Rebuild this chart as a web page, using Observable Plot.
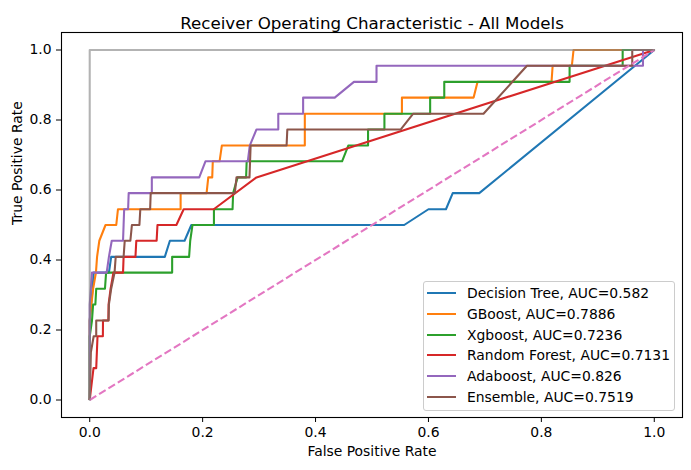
<!DOCTYPE html>
<html>
<head>
<meta charset="utf-8">
<script src="https://cdn.jsdelivr.net/npm/d3@7"></script>
<script src="https://cdn.jsdelivr.net/npm/@observablehq/plot@0.6"></script>
<style>
  html, body { margin: 0; padding: 0; background: white; }
  #wrap { position: relative; width: 691px; height: 470px; font-family: "DejaVu Sans", sans-serif; }
  #legend { position: absolute; left: 423px; top: 281px; width: 250px; height: 128px;
    border: 1px solid #cccccc; border-radius: 3px; background: rgba(255,255,255,0.8); box-sizing: content-box; }
  .row { position: absolute; left: 0; height: 20px; display: flex; align-items: center; font-size: 13.9px; color: #000; white-space: nowrap; }
  .sw { display: inline-block; width: 29px; height: 2px; margin-left: 3px; margin-right: 11px; }
</style>
</head>
<body>
<div id="wrap"><div id="legend"></div></div>
<script>
// ---- data ----
const modelNames = ["Decision Tree", "GBoost", "Xgboost", "Random Forest", "Adaboost", "Ensemble"];
const modelAUC = ["0.582", "0.7886", "0.7236", "0.7131", "0.826", "0.7519"];
const xTicks = [0, 0.2, 0.4, 0.6, 0.8, 1.0];
const yTicks = [0, 0.2, 0.4, 0.6, 0.8, 1.0];

const dtFpr = [0, 0.000, 0.005, 0.007, 0.034, 0.038, 0.133, 0.142, 0.168, 0.180, 0.557, 0.600, 0.631, 0.643, 0.690, 1];
const dtTpr = [0, 0.227, 0.318, 0.364, 0.364, 0.409, 0.409, 0.455, 0.455, 0.500, 0.500, 0.545, 0.545, 0.591, 0.591, 1];

const gbFpr = [0, 0.000, 0.003, 0.006, 0.011, 0.013, 0.017, 0.028, 0.047, 0.050, 0.161, 0.161, 0.207, 0.210, 0.217, 0.218, 0.230, 0.234, 0.381, 0.381, 0.553, 0.553, 0.680, 0.687, 0.818, 0.820, 0.854, 0.857, 1];
const gbTpr = [0, 0.227, 0.273, 0.318, 0.364, 0.409, 0.455, 0.500, 0.500, 0.545, 0.545, 0.591, 0.591, 0.636, 0.636, 0.682, 0.682, 0.727, 0.727, 0.818, 0.818, 0.864, 0.864, 0.909, 0.909, 0.955, 0.955, 1, 1];

const xgFpr = [0, 0.000, 0.004, 0.006, 0.010, 0.0115, 0.027, 0.029, 0.146, 0.146, 0.176, 0.178, 0.182, 0.220, 0.220, 0.253, 0.254, 0.262, 0.277, 0.278, 0.447, 0.458, 0.493, 0.493, 0.522, 0.522, 0.603, 0.603, 0.628, 0.628, 0.850, 0.850, 0.944, 0.944, 1];
const xgTpr = [0, 0.182, 0.227, 0.273, 0.273, 0.318, 0.318, 0.364, 0.364, 0.409, 0.409, 0.455, 0.500, 0.500, 0.545, 0.545, 0.591, 0.636, 0.636, 0.682, 0.682, 0.727, 0.727, 0.773, 0.773, 0.818, 0.818, 0.864, 0.864, 0.909, 0.909, 0.955, 0.955, 1, 1];

const rfFpr = [0, 0.0067, 0.0115, 0.0138, 0.0233, 0.0235, 0.033, 0.0334, 0.037, 0.042, 0.059, 0.060, 0.081, 0.0825, 0.1185, 0.120, 0.1535, 0.1664, 0.2197, 0.2954, 1];
const rfTpr = [0, 0.091, 0.091, 0.182, 0.182, 0.227, 0.227, 0.273, 0.318, 0.364, 0.364, 0.409, 0.409, 0.455, 0.455, 0.500, 0.500, 0.545, 0.545, 0.636, 1];

const adaFpr = [0, 0.000, 0.002, 0.004, 0.030, 0.034, 0.039, 0.059, 0.060, 0.061, 0.068, 0.069, 0.110, 0.110, 0.194, 0.205, 0.280, 0.2835, 0.2954, 0.334, 0.334, 0.378, 0.378, 0.434, 0.468, 0.508, 0.508, 0.980, 0.980, 1];
const adaTpr = [0, 0.273, 0.318, 0.364, 0.364, 0.409, 0.455, 0.455, 0.500, 0.545, 0.545, 0.591, 0.591, 0.636, 0.636, 0.682, 0.682, 0.727, 0.773, 0.773, 0.818, 0.818, 0.864, 0.864, 0.909, 0.909, 0.955, 0.955, 1, 1];

const ensFpr = [0, 0.002, 0.007, 0.0115, 0.0115, 0.0334, 0.034, 0.038, 0.044, 0.046, 0.060, 0.062, 0.072, 0.0747, 0.088, 0.0896, 0.107, 0.108, 0.257, 0.260, 0.283, 0.285, 0.3487, 0.350, 0.551, 0.573, 0.6975, 0.7745, 0.961, 0.961, 1];
const ensTpr = [0, 0.136, 0.182, 0.182, 0.227, 0.227, 0.273, 0.318, 0.364, 0.409, 0.409, 0.455, 0.455, 0.500, 0.500, 0.545, 0.545, 0.591, 0.591, 0.636, 0.636, 0.727, 0.727, 0.773, 0.773, 0.818, 0.818, 0.955, 0.955, 1, 1];

const chanceX = [0, 1];
const chanceY = [0, 1];
const perfectX = [0, 0, 1];
const perfectY = [0, 1, 1];

const titleText = "Receiver Operating Characteristic - All Models";
const xLabel = "False Positive Rate";
const yLabel = "True Positive Rate";

// ---- styling ----
const palette = ["#1f77b4", "#ff7f0e", "#2ca02c", "#d62728", "#9467bd", "#8c564b"];
const series = [[dtFpr, dtTpr], [gbFpr, gbTpr], [xgFpr, xgTpr], [rfFpr, rfTpr], [adaFpr, adaTpr], [ensFpr, ensTpr]];
const LW = 2.08;

const modelMarks = series.map(([fx, fy], i) =>
  Plot.line(fx.map((_, j) => j), {x: fx, y: fy, stroke: palette[i], strokeWidth: LW, strokeLinejoin: "round", strokeLinecap: "butt"})
);

const chart = Plot.plot({
  width: 691,
  height: 470,
  marginLeft: 61,
  marginRight: 9,
  marginTop: 32,
  marginBottom: 53,
  style: {fontFamily: "DejaVu Sans, sans-serif", fontSize: "13.9px", background: "white", color: "black", overflow: "visible"},
  x: {domain: [-0.05, 1.05], ticks: xTicks, tickFormat: ".1f", label: null, tickSize: 5, tickPadding: 5},
  y: {domain: [-0.05, 1.05], ticks: yTicks, tickFormat: ".1f", label: null, tickSize: 5, tickPadding: 5},
  marks: [
    ...modelMarks,
    Plot.line(chanceX.map((_, j) => j), {x: chanceX, y: chanceY, stroke: "#e377c2", strokeWidth: LW, strokeDasharray: "7.7,3.3", strokeLinecap: "butt"}),
    Plot.line(perfectX.map((_, j) => j), {x: perfectX, y: perfectY, stroke: "#808080", strokeOpacity: 0.6, strokeWidth: LW}),
    Plot.frame({stroke: "black", strokeWidth: 1.1}),
    Plot.text([titleText], {text: d => d, frameAnchor: "top", dy: -15, fontSize: 16.7, fill: "black"}),
    Plot.text([xLabel], {text: d => d, frameAnchor: "bottom", dy: 38, fontSize: 13.9, fill: "black"}),
    Plot.text([yLabel], {text: d => d, frameAnchor: "left", dx: -44, rotate: -90, fontSize: 13.9, fill: "black"})
  ]
});

const wrap = document.getElementById("wrap");
wrap.insertBefore(chart, wrap.firstChild);

// legend
const legend = document.getElementById("legend");
const rowTops = [1.3, 22, 42.7, 63.3, 84.3, 105];
modelNames.forEach((name, i) => {
  const row = document.createElement("div");
  row.className = "row";
  row.style.top = rowTops[i] + "px";
  const sw = document.createElement("span");
  sw.className = "sw";
  sw.style.background = palette[i];
  const t = document.createElement("span");
  t.textContent = `${name}, AUC=${modelAUC[i]}`;
  row.appendChild(sw);
  row.appendChild(t);
  legend.appendChild(row);
});
</script>
</body>
</html>
